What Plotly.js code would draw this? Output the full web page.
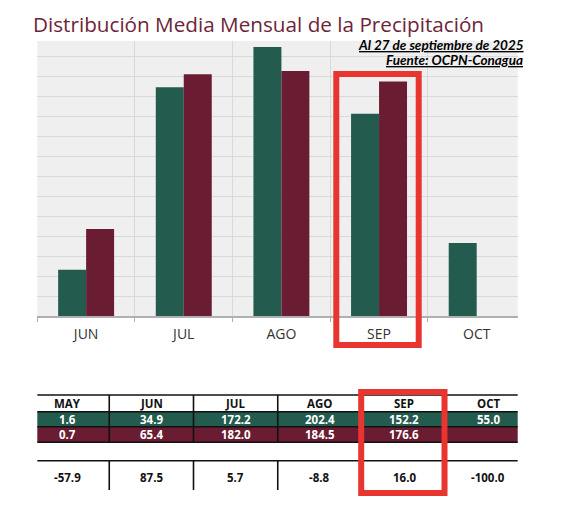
<!DOCTYPE html>
<html><head><meta charset="utf-8">
<script src="https://cdn.plot.ly/plotly-3.0.1.min.js"></script>
<style>html,body{margin:0;padding:0;background:#fff}#chart{width:575px;height:505px}</style>
</head><body><div id="chart"></div>
<script>
// ---- data ----
const tableMonths = ['MAY','JUN','JUL','AGO','SEP','OCT'];
const normalValues = [1.6, 34.9, 172.2, 202.4, 152.2, 55.0];
const actualValues = [0.7, 65.4, 182.0, 184.5, 176.6, null];
const diffPercent = [-57.9, 87.5, 5.7, -8.8, 16.0, -100.0];
const chartMonths = ['JUN','JUL','AGO','SEP','OCT'];
const titleText = 'Distribución Media Mensual de la Precipitación';
const dateNote = 'Al 27 de septiembre de 2025';
const sourceNote = 'Fuente: OCPN-Conagua';

// ---- helpers / styles ----
const W = 575, H = 505;
const px = v => v / W;
const py = v => 1 - v / H;
const GREEN = '#235B4E', MAROON = '#691C32', RED = '#E8352F';
const chartNormal = chartMonths.map(m => normalValues[tableMonths.indexOf(m)]);
const chartActual = chartMonths.map(m => actualValues[tableMonths.indexOf(m)]);
const fmt = v => (v === null || v === undefined) ? '' : v.toFixed(1);

const traces = [
  {type:'bar', x: chartMonths, y: chartNormal, marker:{color: GREEN}, name:'Normal', hoverinfo:'skip'},
  {type:'bar', x: chartMonths, y: chartActual, marker:{color: MAROON}, name:'2025', hoverinfo:'skip'},
  {type:'scatter', mode:'none', x: tableMonths, y: tableMonths.map(() => null), xaxis:'x2', yaxis:'y2', hoverinfo:'skip', showlegend:false}
];

// table geometry (y2 units = px below y=385)
const ROW = {top:10, hdrBot:26.7, grnBot:41.7, marBot:57.3, diffTop:75.7, diffBot:105};
const TXT = {hdr:18.5, grn:34.3, mar:49.8, diff:92.7};

const shapes = [];
// main plot background (below gridlines)
shapes.push({type:'rect', xref:'x domain', yref:'y domain', x0:0, x1:1, y0:0, y1:1, layer:'below', fillcolor:'#efefef', line:{width:0}});
tableMonths.forEach((m, i) => {
  shapes.push({type:'rect', xref:'x2', yref:'y2', x0:i-0.5, x1:i+0.5, y0:ROW.hdrBot, y1:ROW.grnBot, fillcolor:GREEN, line:{width:0}});
  shapes.push({type:'rect', xref:'x2', yref:'y2', x0:i-0.5, x1:i+0.5, y0:ROW.grnBot, y1:ROW.marBot, fillcolor:MAROON, line:{width:0}});
});
[ROW.top, ROW.hdrBot, ROW.grnBot, ROW.marBot, ROW.diffTop].forEach(y => {
  shapes.push({type:'line', xref:'x2', yref:'y2', x0:-0.5, x1:tableMonths.length-0.5, y0:y, y1:y, line:{color:'#111', width:1.6}});
});
tableMonths.slice(0, -1).forEach((m, i) => {
  shapes.push({type:'line', xref:'x2', yref:'y2', x0:i+0.5, x1:i+0.5, y0:ROW.top, y1:ROW.marBot, line:{color:'#111', width:1.6}});
  shapes.push({type:'line', xref:'x2', yref:'y2', x0:i+0.5, x1:i+0.5, y0:ROW.diffTop, y1:ROW.diffBot, line:{color:'#111', width:1.6}});
});
// highlight boxes
shapes.push({type:'rect', xref:'paper', yref:'paper', x0:px(336.3), x1:px(418.7), y0:py(345), y1:py(74), line:{color:RED, width:6}, fillcolor:'rgba(0,0,0,0)'});
shapes.push({type:'rect', xref:'paper', yref:'paper', x0:px(361.2), x1:px(444.5), y0:py(493), y1:py(392), line:{color:RED, width:6}, fillcolor:'rgba(0,0,0,0)'});

const tfont = (c) => ({family:'Open Sans, sans-serif', size:11.5, color:c, weight:700});
const annotations = [];
tableMonths.forEach((m, i) => {
  annotations.push({xref:'x2', yref:'y2', x:i, y:TXT.hdr, text:m, showarrow:false, font:tfont('#111')});
  annotations.push({xref:'x2', yref:'y2', x:i, y:TXT.grn, text:fmt(normalValues[i]), showarrow:false, font:tfont('#fff')});
  annotations.push({xref:'x2', yref:'y2', x:i, y:TXT.mar, text:fmt(actualValues[i]), showarrow:false, font:tfont('#fff')});
  annotations.push({xref:'x2', yref:'y2', x:i, y:TXT.diff, text:fmt(diffPercent[i]), showarrow:false, font:tfont('#111')});
});
const nfont = {family:'Lato, sans-serif', size:13.5, color:'#000', weight:700, style:'italic'};
annotations.push({xref:'paper', yref:'paper', x:px(526), y:py(45), xanchor:'right', yanchor:'middle', text:'<u>'+dateNote+'</u>', showarrow:false, font:nfont});
annotations.push({xref:'paper', yref:'paper', x:px(525), y:py(60), xanchor:'right', yanchor:'middle', text:'<u>'+sourceNote+'</u>', showarrow:false, font:nfont});

const layout = {
  width: W, height: H,
  margin:{l:0, r:0, t:0, b:0},
  paper_bgcolor:'#ffffff',
  plot_bgcolor:'rgba(0,0,0,0)',
  showlegend:false,
  barmode:'group', bargap:0.427, bargroupgap:0,
  title:{text:titleText, x:px(33), xanchor:'left', xref:'paper', y:py(25), yanchor:'middle',
         font:{family:'Open Sans, sans-serif', size:20.7, color:'#6E2439'}},
  xaxis:{domain:[px(37.3), px(517.7)], type:'category', categoryorder:'array', categoryarray:chartMonths,
         range:[-0.5, 4.42], tickson:'boundaries', showgrid:true, gridcolor:'#d9d9d9', gridwidth:1,
         ticks:'outside', ticklen:4, tickcolor:'#b0b0b0', showline:true, linecolor:'#b0b0b0', linewidth:1.5,
         tickfont:{family:'Open Sans, sans-serif', size:14, color:'#333'}, ticklabelstandoff:5, anchor:'y', fixedrange:true},
  yaxis:{domain:[py(316), py(41)], range:[0, 207], tick0:0, dtick:15, showticklabels:false, showgrid:true,
         gridcolor:'#d9d9d9', zeroline:false, ticks:'', anchor:'x', fixedrange:true},
  xaxis2:{domain:[px(37.3), px(517.7)], type:'category', categoryorder:'array', categoryarray:tableMonths,
          range:[-0.354, 5.348], visible:false, anchor:'y2', fixedrange:true},
  yaxis2:{domain:[py(500), py(385)], range:[115, 0], visible:false, anchor:'x2', fixedrange:true},
  shapes: shapes,
  annotations: annotations
};

Plotly.newPlot('chart', traces, layout, {displayModeBar:false, staticPlot:true});
</script>
</body></html>
